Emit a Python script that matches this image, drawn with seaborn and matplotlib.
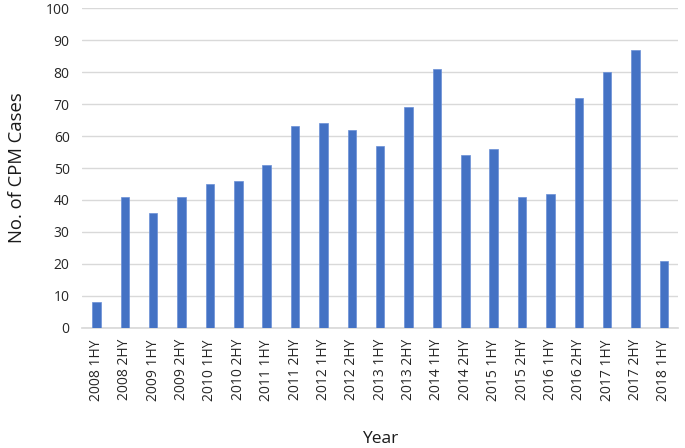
import matplotlib
matplotlib.use("Agg")
import matplotlib.pyplot as plt
import seaborn as sns
import pandas as pd

periods = ["2008 1HY", "2008 2HY", "2009 1HY", "2009 2HY", "2010 1HY", "2010 2HY",
           "2011 1HY", "2011 2HY", "2012 1HY", "2012 2HY", "2013 1HY", "2013 2HY",
           "2014 1HY", "2014 2HY", "2015 1HY", "2015 2HY", "2016 1HY", "2016 2HY",
           "2017 1HY", "2017 2HY", "2018 1HY"]
cases = [8, 41, 36, 41, 45, 46, 51, 63, 64, 62, 57, 69, 81, 54, 56, 41, 42, 72, 80, 87, 21]

sns.set_theme(style="white")
plt.rcParams['font.family'] = ['Open Sans', 'DejaVu Sans']

df = pd.DataFrame({"Year": periods, "Cases": cases})
fig = plt.figure(figsize=(6.85, 4.48), dpi=100)
ax = fig.add_axes([0.12, 0.268, 0.87, 0.714])
sns.barplot(data=df, x="Year", y="Cases", color="#4472C4", width=0.3, ax=ax,
            saturation=1, edgecolor="#6a8fd6", linewidth=0.5, zorder=3)
ax.set_ylim(0, 100)
ax.set_yticks(range(0, 101, 10))
ax.yaxis.grid(True, color="#d9d9d9", linewidth=1, zorder=0)
ax.set_axisbelow(True)
for s in ["top", "right", "left"]:
    ax.spines[s].set_visible(False)
ax.spines["bottom"].set_color("#d9d9d9")
ax.tick_params(axis="x", rotation=90, labelsize=10, colors="#262626", length=0, pad=8)
ax.tick_params(axis="y", labelsize=10, colors="#262626", length=0, pad=9)
ax.set_xlabel("Year", fontsize=12.5, color="#1a1a1a", labelpad=22)
ax.set_ylabel("No. of CPM Cases", fontsize=13.3, color="#1a1a1a", labelpad=14)
fig.savefig("out.png", dpi=100)
